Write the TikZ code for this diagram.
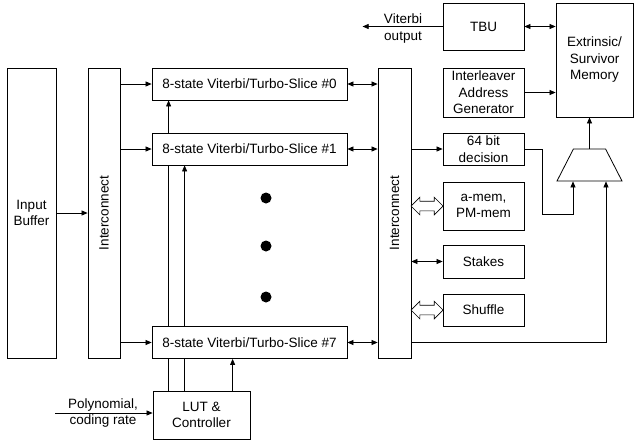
\documentclass[tikz,border=0pt]{standalone}
\usepackage{fontspec}
\setmainfont{Liberation Sans}
\usetikzlibrary{arrows.meta,shapes.geometric,shapes.arrows,backgrounds,calc}

\begin{document}
\begin{tikzpicture}[x=1pt, y=-1pt,
    font=\fontsize{13.5}{16.5}\selectfont,
    >={Triangle[length=6pt,width=5pt]},
    blk/.style={draw, fill=white, line width=0.8pt, align=center, inner sep=0pt},
    conn/.style={line width=0.7pt},
    hollow/.style={double arrow, draw, fill=white, line width=0.7pt, minimum height=32pt,
        inner xsep=0pt, inner ysep=4.5pt, double arrow head extend=4pt}]

    \useasboundingbox (0,0) rectangle (634,442);

    % Input buffer and the two interconnects
    \node[blk, minimum width=49pt, minimum height=290pt] (buf) at (31.5,213) {Input\\Buffer};
    \node[blk, minimum width=32pt, minimum height=290pt] (icl) at (104,213) {\rotatebox{90}{Interconnect}};
    \node[blk, minimum width=33pt, minimum height=290pt] (icr) at (394.5,213) {\rotatebox{90}{Interconnect}};

    % Slices
    \node[blk, minimum width=195pt, minimum height=32pt] (s0) at (249.5,84) {8-state Viterbi/Turbo-Slice \#0};
    \node[blk, minimum width=195pt, minimum height=32pt] (s1) at (249.5,149) {8-state Viterbi/Turbo-Slice \#1};
    \node[blk, minimum width=195pt, minimum height=32pt] (s7) at (249.5,342.5) {8-state Viterbi/Turbo-Slice \#7};
    \node[blk, minimum width=97pt, minimum height=48pt] (lut) at (201.5,415) {LUT \&\\Controller};

    % Dots between the slices
    \fill[black] (266,198) circle (5.5pt);
    \fill[black] (266,246) circle (5.5pt);
    \fill[black] (266,297) circle (5.5pt);

    % Blocks on the right
    \node[blk, minimum width=81pt, minimum height=47pt] (tbu) at (483.5,26.5) {TBU};
    \node[blk, minimum width=77pt, minimum height=114pt] (mem) at (594.5,60) {Extrinsic/\\Survivor\\Memory};
    \node[blk, minimum width=81pt, minimum height=49pt] (ilv) at (483.5,92.5) {Interleaver\\Address\\Generator};
    \node[blk, minimum width=81pt, minimum height=32pt] (dec) at (483.5,149) {64 bit\\decision};
    \node[blk, minimum width=81pt, minimum height=48pt] (amem) at (483.5,206) {a-mem,\\PM-mem};
    \node[blk, minimum width=81pt, minimum height=33pt] (stk) at (483.5,261.5) {Stakes};
    \node[blk, minimum width=81pt, minimum height=32pt] (shf) at (483.5,310) {Shuffle};
    \node[trapezium, draw, line width=0.8pt, trapezium angle=63, trapezium stretches=true,
        minimum width=65pt, minimum height=32pt, inner sep=1pt] (mux) at (589.5,165) {};
    \coordinate (in1) at ($(mux.south)+(-16.5,0)$);
    \coordinate (in2) at ($(mux.south)+(16.5,0)$);

    % Labels of the free inputs and outputs
    \node[align=center] (vlab) at (403,28.5) {Viterbi\\output};
    \node[align=center] (plab) at (103,413) {Polynomial,\\coding rate};

    % Arrows on the left side
    \draw[conn,->] (buf) -- (icl);
    \draw[conn,->] (icl.east |- s0) -- (s0.west);
    \draw[conn,->] (icl.east |- s1) -- (s1.west);
    \draw[conn,->] (icl.east |- s7) -- (s7.west);
    \coordinate (pin) at (55,413);
    \draw[conn,->] (pin) -- (lut.west |- pin);

    % Control lines from the LUT, behind the slices
    \begin{scope}[on background layer]
        \draw[conn,->] ($(lut.north west)+(16,0)$) coordinate (l1) -- (l1 |- s0.south);
        \draw[conn,->] ($(lut.north west)+(32,0)$) coordinate (l2) -- (l2 |- s1.south);
        \draw[conn,->] ($(lut.north west)+(80,0)$) coordinate (l3) -- (l3 |- s7.south);
    \end{scope}

    % Slices to the right interconnect
    \draw[conn,<->] (s0.east) -- (icr.west |- s0);
    \draw[conn,<->] (s1.east) -- (icr.west |- s1);
    \draw[conn,<->] (s7.east) -- (icr.west |- s7);

    % Right interconnect to its blocks
    \draw[conn,->] (icr.east |- dec) -- (dec.west);
    \node[hollow] (h1) at ($(icr.east |- amem)!0.5!(amem.west)$) {};
    \draw[conn,<->] (icr.east |- stk) -- (stk.west);
    \node[hollow] (h2) at ($(icr.east |- shf)!0.5!(shf.west)$) {};

    % Multiplexer and memory
    \draw[conn,->] (dec.east) -- ++(18,0) |- ($(in1)+(0,33)$) -- (in1);
    \draw[conn,->] (icr.east |- s7) -| (in2);
    \draw[conn,->] (mux.north) -- (mux.north |- mem.south);
    \draw[conn,<->] (tbu.east) -- (mem.west |- tbu);
    \draw[conn,->] (ilv.east) -- (mem.west |- ilv);
    \draw[conn,->] (tbu.west) -- ++(-80,0) coordinate (vout);

\end{tikzpicture}
\end{document}
